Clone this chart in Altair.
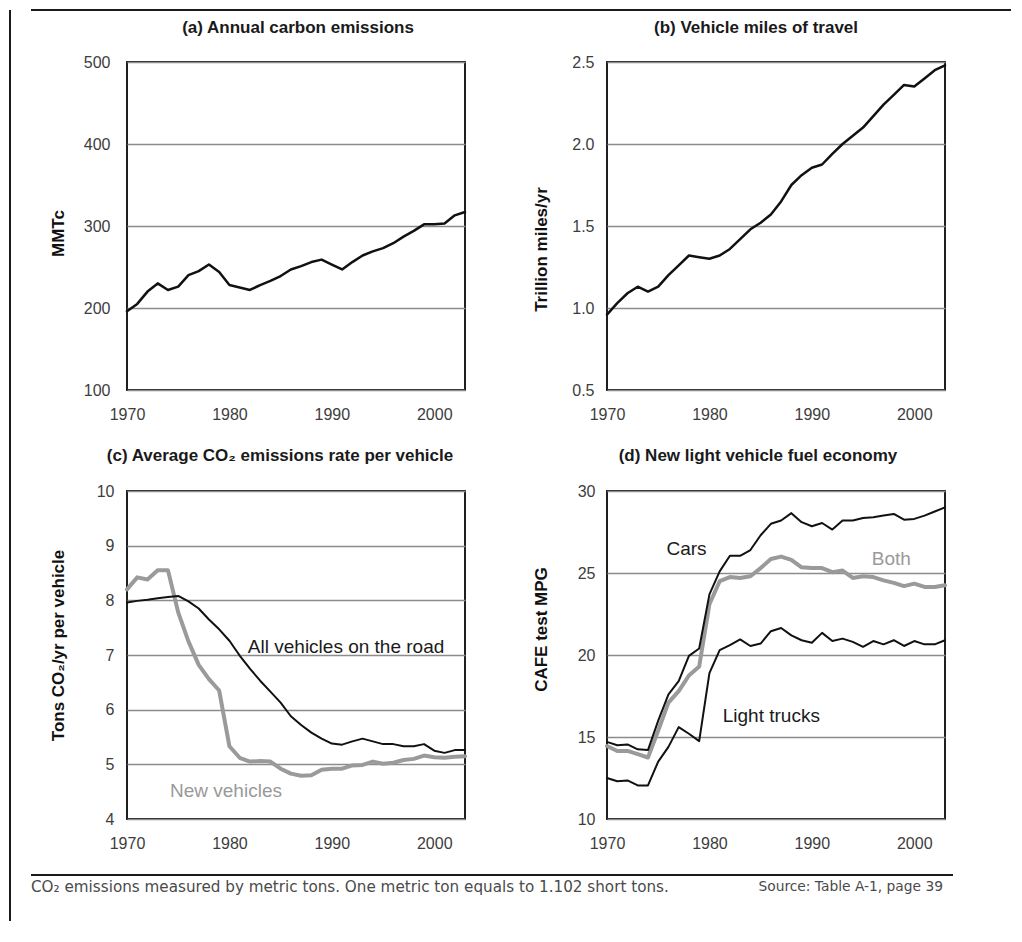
import altair as alt
import pandas as pd

# ---------------- data ----------------
years = [1970, 1971, 1972, 1973, 1974, 1975, 1976, 1977, 1978, 1979,
         1980, 1981, 1982, 1983, 1984, 1985, 1986, 1987, 1988, 1989,
         1990, 1991, 1992, 1993, 1994, 1995, 1996, 1997, 1998, 1999,
         2000, 2001, 2002, 2003]

carbon_mmtc = [196, 205, 220, 230, 222, 226, 240, 245, 253, 244,
               228, 225, 222, 228, 233, 239, 247, 251, 256, 259,
               253, 247, 256, 264, 269, 273, 279, 287, 294, 302,
               302, 303, 313, 317]

vmt_trillion = [0.96, 1.03, 1.09, 1.13, 1.10, 1.13, 1.20, 1.26, 1.32, 1.31,
                1.30, 1.32, 1.36, 1.42, 1.48, 1.52, 1.57, 1.65, 1.75, 1.81,
                1.855, 1.875, 1.94, 2.00, 2.05, 2.10, 2.17, 2.24, 2.30, 2.36,
                2.35, 2.40, 2.45, 2.48]

co2_all_vehicles = [7.96, 7.99, 8.01, 8.04, 8.06, 8.08, 7.98, 7.85, 7.65, 7.47,
                    7.26, 6.99, 6.75, 6.53, 6.33, 6.13, 5.88, 5.72, 5.58, 5.47,
                    5.38, 5.36, 5.42, 5.47, 5.42, 5.37, 5.37, 5.33, 5.33, 5.37,
                    5.25, 5.21, 5.26, 5.26]

co2_new_vehicles = [8.20, 8.42, 8.38, 8.55, 8.55, 7.78, 7.25, 6.82, 6.56, 6.35,
                    5.33, 5.12, 5.05, 5.06, 5.05, 4.92, 4.83, 4.79, 4.80, 4.90,
                    4.92, 4.92, 4.98, 4.99, 5.05, 5.01, 5.03, 5.08, 5.10, 5.16,
                    5.13, 5.12, 5.14, 5.15]

mpg_cars = [14.7, 14.5, 14.55, 14.25, 14.2, 16.0, 17.6, 18.4, 19.95, 20.4,
            23.7, 25.1, 26.05, 26.05, 26.4, 27.3, 28.0, 28.2, 28.65, 28.1,
            27.85, 28.05, 27.65, 28.2, 28.2, 28.35, 28.4, 28.5, 28.6, 28.25,
            28.3, 28.5, 28.75, 29.0]

mpg_both = [14.45, 14.15, 14.15, 13.95, 13.75, 15.4, 17.1, 17.8, 18.75, 19.3,
            23.1, 24.5, 24.75, 24.7, 24.8, 25.3, 25.85, 26.0, 25.8, 25.35,
            25.3, 25.3, 25.05, 25.15, 24.7, 24.8, 24.75, 24.55, 24.4, 24.2,
            24.35, 24.15, 24.15, 24.25]

mpg_light_trucks = [12.5, 12.3, 12.35, 12.05, 12.05, 13.5, 14.4, 15.6, 15.2, 14.75,
                    18.9, 20.3, 20.6, 20.95, 20.55, 20.7, 21.45, 21.65, 21.2, 20.9,
                    20.75, 21.35, 20.85, 21.0, 20.8, 20.5, 20.85, 20.65, 20.9, 20.55,
                    20.85, 20.65, 20.65, 20.9]

panel_titles = ["(a) Annual carbon emissions",
                "(b) Vehicle miles of travel",
                "(c) Average CO\u2082 emissions rate per vehicle",
                "(d) New light vehicle fuel economy"]
y_titles = ["MMTc", "Trillion miles/yr", "Tons CO\u2082/yr per vehicle", "CAFE test MPG"]
x_ticks = [1970, 1980, 1990, 2000]
y_ticks_a = [100, 200, 300, 400, 500]
y_ticks_b = [0.5, 1.0, 1.5, 2.0, 2.5]
y_ticks_c = [4, 5, 6, 7, 8, 9, 10]
y_ticks_d = [10, 15, 20, 25, 30]

labels_c = ["All vehicles on the road", "New vehicles"]
labels_c_year = [1981.8, 1974.2]
labels_c_val = [7.15, 4.51]
labels_c_color = ["#1a1a1a", "#999999"]

labels_d = ["Cars", "Both", "Light trucks"]
labels_d_year = [1975.8, 1995.85, 1981.3]
labels_d_val = [26.48, 25.85, 16.28]
labels_d_color = ["#1a1a1a", "#999999", "#1a1a1a"]

footnote = "CO\u2082 emissions measured by metric tons. One metric ton equals to 1.102 short tons."
source_note = "Source: Table A-1, page 39"

# ---------------- styling ----------------
FONT = "Liberation Sans"
W, H = 338, 328
BLACK = "#111111"
GRAY = "#9a9a9a"


def x_enc():
    return alt.X("year:Q",
                 scale=alt.Scale(domain=[1970, 2003], nice=False, zero=False),
                 axis=alt.Axis(values=x_ticks, format="d", title=None, grid=False,
                               labelFlush=False, labelOverlap=False, labelPadding=16))


def y_enc(domain, ticks, fmt, title, tx, ty, lp):
    return alt.Y("v:Q",
                 scale=alt.Scale(domain=domain, nice=False, zero=False),
                 axis=alt.Axis(values=ticks, format=fmt, title=title,
                               titleX=tx, titleY=ty, titleAngle=270,
                               titleAlign="center", titleBaseline="middle",
                               labelPadding=lp, grid=True,
                               labelFlush=False, labelOverlap=False))


def line(values, color, width, yenc):
    df = pd.DataFrame({"year": years, "v": values})
    return alt.Chart(df).mark_line(color=color, strokeWidth=width,
                                   strokeJoin="round", strokeCap="round").encode(
        x=x_enc(), y=yenc)


def title_text(text, x, y):
    return alt.Chart(pd.DataFrame({"t": [text]})).mark_text(
        font=FONT, fontSize=17, fontWeight="bold", color="#1a1a1a",
        align="center", baseline="middle").encode(
        text="t:N", x=alt.value(x), y=alt.value(y))


def annotations(lbls, xs, vs, cols, yenc):
    df = pd.DataFrame({"year": xs, "v": vs, "label": lbls, "col": cols})
    return alt.Chart(df).mark_text(font=FONT, fontSize=19, align="left",
                                   baseline="middle").encode(
        x=x_enc(), y=yenc, text="label:N", color=alt.Color("col:N", scale=None))


one = pd.DataFrame({"k": [0]})

# frame lines of the page (panel a coordinates; plot origin at page 126,61)
frame_top = alt.Chart(one).mark_rule(color="#1a1a1a", strokeWidth=2).encode(
    x=alt.value(-96), x2=alt.value(884), y=alt.value(-52))
frame_left = alt.Chart(one).mark_rule(color="#1a1a1a", strokeWidth=2).encode(
    x=alt.value(-117), y=alt.value(-52), y2=alt.value(859))

# footer (panel c coordinates; plot origin at page 126,490)
footer_rule = alt.Chart(one).mark_rule(color="#1a1a1a", strokeWidth=2).encode(
    x=alt.value(-96), x2=alt.value(826), y=alt.value(384))
footer_left = alt.Chart(pd.DataFrame({"t": [footnote]})).mark_text(
    font="DejaVu Sans", fontSize=15.2, color="#4a4a4a", align="left",
    baseline="middle").encode(
    text="t:N", x=alt.value(-96), y=alt.value(396))
footer_right = alt.Chart(pd.DataFrame({"t": [source_note]})).mark_text(
    font="DejaVu Sans", fontSize=13.8, color="#4a4a4a", align="right",
    baseline="middle").encode(
    text="t:N", x=alt.value(816), y=alt.value(396))

# ---------------- panels ----------------
ya = y_enc([100, 500], y_ticks_a, "d", y_titles[0], -69, 171, 17)
panel_a = alt.layer(
    line(carbon_mmtc, BLACK, 2.5, ya),
    title_text(panel_titles[0], 171, -34),
    frame_top, frame_left,
).properties(width=W, height=H)

yb = y_enc([0.5, 2.5], y_ticks_b, ".1f", y_titles[1], -66, 187, 13)
panel_b = alt.layer(
    line(vmt_trillion, BLACK, 2.5, yb),
    title_text(panel_titles[1], 149, -34),
).properties(width=W, height=H)

yc = y_enc([4, 10], y_ticks_c, "d", y_titles[2], -69, 154, 13)
panel_c = alt.layer(
    line(co2_new_vehicles, GRAY, 4, yc),
    line(co2_all_vehicles, BLACK, 2, yc),
    annotations(labels_c, labels_c_year, labels_c_val, labels_c_color, yc),
    title_text(panel_titles[2], 153, -35),
    footer_rule, footer_left, footer_right,
).properties(width=W, height=H)

yd = y_enc([10, 30], y_ticks_d, "d", y_titles[3], -66, 138, 12)
panel_d = alt.layer(
    line(mpg_both, GRAY, 4, yd),
    line(mpg_cars, BLACK, 2, yd),
    line(mpg_light_trucks, BLACK, 2, yd),
    annotations(labels_d, labels_d_year, labels_d_val, labels_d_color, yd),
    title_text(panel_titles[3], 151, -35),
).properties(width=W, height=H)

chart = alt.concat(
    panel_a, panel_b, panel_c, panel_d,
    columns=2, spacing={"row": 101, "column": 142}, bounds="flush",
).properties(
    padding=0, background="white"
).configure_view(
    stroke="#1f1f1f", strokeWidth=2
).configure_axis(
    labelFont=FONT, labelFontSize=16, labelColor="#3d3d3d",
    titleFont=FONT, titleFontSize=17, titleFontWeight="bold", titleColor="#111111",
    domain=False, ticks=False,
    gridColor="#8c8c8c", gridWidth=1.5,
)

chart.save("out.html", embed_options={"renderer": "svg", "actions": False})
